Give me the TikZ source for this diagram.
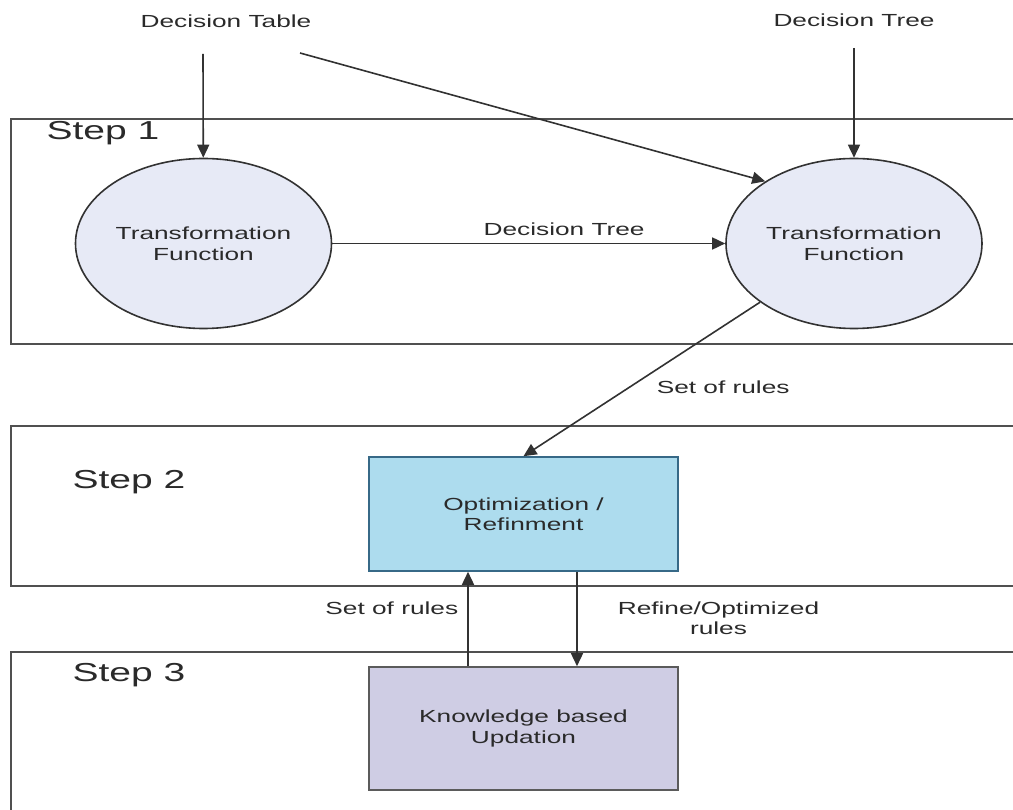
\documentclass[tikz,border=0pt]{standalone}
\usepackage{fontspec}
\setmainfont{Liberation Sans}[FakeStretch=1.5]
\usetikzlibrary{shapes.geometric,arrows.meta,positioning}
\definecolor{lineGray}{RGB}{50,50,50}
\definecolor{frameGray}{RGB}{80,80,80}
\definecolor{textGray}{RGB}{42,42,42}
\definecolor{ellipseFill}{RGB}{231,234,246}
\definecolor{optFill}{RGB}{173,220,238}
\definecolor{optLine}{RGB}{55,105,135}
\definecolor{kbFill}{RGB}{207,205,228}

\begin{document}
\begin{tikzpicture}
[x=1pt,y=-1pt,
  lineDecorate/.style={draw=lineGray,line width=1.6pt,-{Triangle[length=13pt,width=12pt]}},%
  frameDecorate/.style={draw=frameGray,line width=2pt},%
  textDecorate/.style={text=textGray,font=\fontsize{17.5}{20.5}\selectfont,align=center,inner sep=2pt},%
  ellipseDecorate/.style={textDecorate,shape=ellipse,draw=lineGray,line width=1.6pt,
    fill=ellipseFill,minimum width=256pt,minimum height=170pt},%
  boxDecorate/.style={textDecorate,shape=rectangle,line width=1.6pt,minimum width=309pt},%
  stepDecorate/.style={text=textGray,font=\fontsize{26}{30}\selectfont,inner sep=0pt}]
\useasboundingbox (0,0) rectangle (1013,810);
\clip (0,0) rectangle (1013,810);
%% step frames, open to the right
\foreach \ytop/\ybot in {119/344, 426/586, 652/830}
{
  \draw[frameDecorate] (1030,\ytop) -| (11,\ybot) -- (1030,\ybot);
}
%% step labels
\foreach \nodename/\x/\y/\num in {step1/103/133/1, step2/129/482/2, step3/129/675/3}
{
  \node (\nodename) at (\x,\y) [stepDecorate] {Step \num};
}
%% inputs
\node (dTable) at (226,21) [textDecorate] {Decision Table};
\node (dTree) at (854,20) [textDecorate] {Decision Tree};
\coordinate (dTableOutA) at (203,54);
\coordinate (dTableOutB) at (300,53);
\coordinate (dTreeOut) at (854,48);
%% process nodes
\node (tfLeft) at (203.5,243.5) [ellipseDecorate] {Transformation\\Function};
\node (tfRight) at (854,243.5) [ellipseDecorate] {Transformation\\Function};
\node (optBox) at (523.5,514) [boxDecorate,draw=optLine,fill=optFill,minimum height=114pt]
  {Optimization /\\Refinment};
\node (kbBox) at (523.5,728.5) [boxDecorate,draw=lineGray!80,fill=kbFill,minimum height=123pt]
  {Knowledge based\\Updation};
%% edges
\draw[lineDecorate] (dTableOutA) -- (tfLeft);
\draw[lineDecorate] (dTableOutB) -- (tfRight.145);
\draw[lineDecorate] (dTreeOut) -- (tfRight);
\draw[lineDecorate] (tfLeft) -- node[textDecorate,pos=0.59,above=5pt] {Decision Tree} (tfRight);
\draw[lineDecorate] (tfRight.212) -- node[textDecorate,pos=0.55,right=24pt] {Set of rules} (optBox.north);
\draw[lineDecorate] ([xshift=-55.5pt]kbBox.north) -- node[textDecorate,pos=0.61,left=7pt] {Set of rules}
  ([xshift=-55.5pt]optBox.south);
\draw[lineDecorate] ([xshift=53.5pt]optBox.south) -- node[textDecorate,pos=0.49,right=38pt] {Refine/Optimized\\rules}
  ([xshift=53.5pt]kbBox.north);
\end{tikzpicture}
\end{document}
